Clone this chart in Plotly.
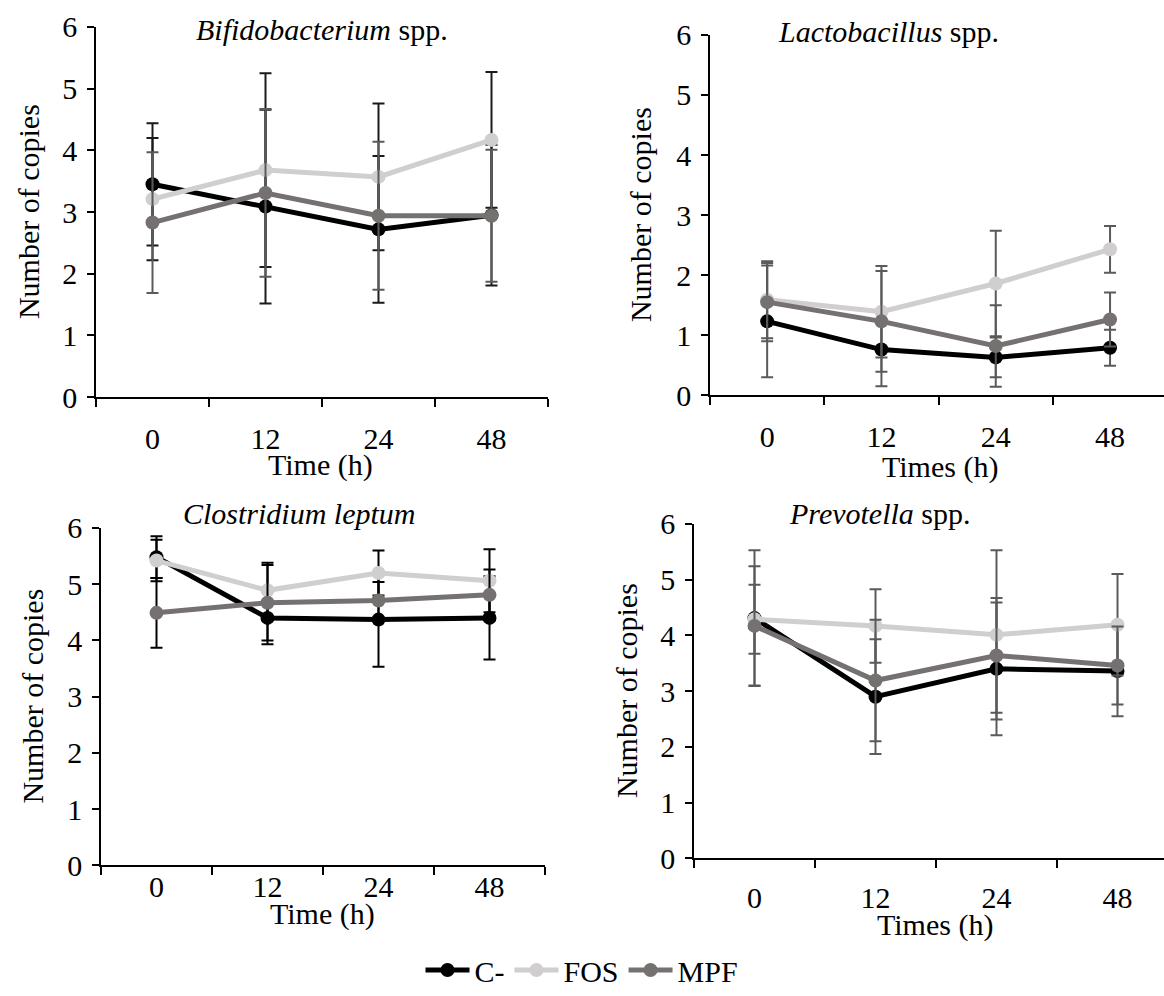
import plotly.graph_objects as go

# ---------------- data ----------------
TIMES = ["0", "12", "24", "48"]
SERIES = ["C-", "FOS", "MPF"]

# Bifidobacterium spp.
BIFI_C = [3.45, 3.09, 2.72, 2.95]
BIFI_C_ERR = [0.99, 1.57, 1.19, 1.14]
BIFI_FOS = [3.21, 3.68, 3.57, 4.17]
BIFI_FOS_ERR = [0.99, 1.57, 1.19, 1.10]
BIFI_MPF = [2.83, 3.31, 2.94, 2.94]
BIFI_MPF_ERR = [1.14, 1.36, 1.20, 1.07]

# Lactobacillus spp.
LACTO_C = [1.23, 0.76, 0.63, 0.79]
LACTO_C_ERR = [0.93, 0.61, 0.33, 0.30]
LACTO_FOS = [1.59, 1.39, 1.86, 2.43]
LACTO_FOS_ERR = [0.64, 0.76, 0.88, 0.39]
LACTO_MPF = [1.55, 1.23, 0.82, 1.26]
LACTO_MPF_ERR = [0.65, 0.84, 0.68, 0.45]

# Clostridium leptum
CLOS_C = [5.48, 4.40, 4.37, 4.40]
CLOS_C_ERR = [0.37, 0.47, 0.84, 0.74]
CLOS_FOS = [5.42, 4.89, 5.20, 5.06]
CLOS_FOS_ERR = [0.37, 0.49, 0.40, 0.56]
CLOS_MPF = [4.49, 4.67, 4.71, 4.81]
CLOS_MPF_ERR = [0.62, 0.67, 0.33, 0.45]

# Prevotella spp.
PREV_C = [4.31, 2.90, 3.40, 3.36]
PREV_C_ERR = [1.22, 1.03, 1.19, 0.81]
PREV_FOS = [4.29, 4.17, 4.01, 4.19]
PREV_FOS_ERR = [0.62, 0.66, 1.52, 0.91]
PREV_MPF = [4.17, 3.19, 3.64, 3.46]
PREV_MPF_ERR = [1.07, 1.09, 1.03, 0.70]

TITLES = ["<i>Bifidobacterium</i> spp.", "<i>Lactobacillus</i> spp.",
          "<i>Clostridium leptum</i>", "<i>Prevotella</i> spp."]
XTITLES = ["Time (h)", "Times (h)", "Time (h)", "Times (h)"]
YTITLE = "Number of copies"

# ---------------- style ----------------
W, H = 1164, 996
FONT = "Liberation Serif"
FS = 30
LINE_COLORS = {"C-": "#000000", "FOS": "#d0cece", "MPF": "#767171"}

panels = [
    dict(vals=[(BIFI_C, BIFI_C_ERR), (BIFI_FOS, BIFI_FOS_ERR), (BIFI_MPF, BIFI_MPF_ERR)],
         errc=["#1a1a1a", "#1a1a1a", "#5a5a5a"],
         x0=96, x1=548, xr=[-0.5, 3.5], ytop=27, ybot=398,
         title_xy=(322, 30), xt_xy=(320, 466), yt_x=28, tick_gap=14),
    dict(vals=[(LACTO_C, LACTO_C_ERR), (LACTO_FOS, LACTO_FOS_ERR), (LACTO_MPF, LACTO_MPF_ERR)],
         errc=["#5a5a5a", "#5a5a5a", "#5a5a5a"],
         x0=710, x1=1164, xr=[-0.5, -0.5 + 454 / 114.3], ytop=35, ybot=396,
         title_xy=(888, 32), xt_xy=(940, 468), yt_x=640, tick_gap=14),
    dict(vals=[(CLOS_C, CLOS_C_ERR), (CLOS_FOS, CLOS_FOS_ERR), (CLOS_MPF, CLOS_MPF_ERR)],
         errc=["#000000", "#000000", "#000000"],
         x0=101, x1=545, xr=[-0.5, 3.5], ytop=529, ybot=867,
         title_xy=(300, 515), xt_xy=(322, 916), yt_x=33, tick_gap=-6),
    dict(vals=[(PREV_C, PREV_C_ERR), (PREV_FOS, PREV_FOS_ERR), (PREV_MPF, PREV_MPF_ERR)],
         errc=["#5a5a5a", "#5a5a5a", "#5a5a5a"],
         x0=694, x1=1164, xr=[-0.5, -0.5 + 470 / 121.0], ytop=525, ybot=860,
         title_xy=(880, 515), xt_xy=(935, 927), yt_x=626, tick_gap=12),
]

fig = go.Figure()
annotations = []
layout_axes = {}

for i, p in enumerate(panels, start=1):
    xa = "x" if i == 1 else f"x{i}"
    ya = "y" if i == 1 else f"y{i}"
    for (vals, errs), name, ec in zip(p["vals"], SERIES, p["errc"]):
        fig.add_trace(go.Scatter(
            x=TIMES, y=vals, name=name, mode="lines+markers",
            xaxis=xa, yaxis=ya, showlegend=(i == 1),
            line=dict(color=LINE_COLORS[name], width=5),
            marker=dict(color=LINE_COLORS[name], size=14),
            error_y=dict(type="data", array=errs, visible=True,
                         color=ec, thickness=2, width=6),
        ))
    xkey = "xaxis" if i == 1 else f"xaxis{i}"
    ykey = "yaxis" if i == 1 else f"yaxis{i}"
    layout_axes[xkey] = dict(
        type="category", domain=[p["x0"] / W, p["x1"] / W], range=p["xr"],
        anchor=ya, tickson="boundaries", ticks="outside", ticklen=8,
        tickwidth=1.5, tickcolor="black", showline=True, linecolor="black",
        linewidth=1.5, showgrid=False, zeroline=False, automargin=False,
        tickfont=dict(family=FONT, size=FS, color="black"),
        ticklabelstandoff=p["tick_gap"], fixedrange=True,
    )
    layout_axes[ykey] = dict(
        domain=[(H - p["ybot"]) / H, (H - p["ytop"]) / H], range=[0, 6],
        anchor=xa, dtick=1, ticks="outside", ticklen=7, tickwidth=1.5,
        tickcolor="black", showline=True, linecolor="black", linewidth=1.5,
        showgrid=False, zeroline=False, automargin=False,
        tickfont=dict(family=FONT, size=FS, color="black"),
        ticklabelstandoff=4, fixedrange=True,
    )
    tx, ty = p["title_xy"]
    annotations.append(dict(text=TITLES[i - 1], x=tx / W, y=(H - ty) / H,
                            xref="paper", yref="paper", showarrow=False,
                            xanchor="center", yanchor="middle",
                            font=dict(family=FONT, size=FS, color="black")))
    xx, xy = p["xt_xy"]
    annotations.append(dict(text=XTITLES[i - 1], x=xx / W, y=(H - xy) / H,
                            xref="paper", yref="paper", showarrow=False,
                            xanchor="center", yanchor="middle",
                            font=dict(family=FONT, size=FS, color="black")))
    ymid = (p["ytop"] + p["ybot"]) / 2
    annotations.append(dict(text=YTITLE, x=p["yt_x"] / W, y=(H - ymid) / H,
                            xref="paper", yref="paper", showarrow=False,
                            textangle=-90, xanchor="center", yanchor="middle",
                            font=dict(family=FONT, size=FS, color="black")))

fig.update_layout(
    width=W, height=H, margin=dict(l=0, r=0, t=0, b=0),
    paper_bgcolor="white", plot_bgcolor="white",
    font=dict(family=FONT, size=FS, color="black"),
    showlegend=True,
    legend=dict(orientation="h", x=0.5, xanchor="center", y=(H - 972) / H,
                yanchor="middle", font=dict(family=FONT, size=FS),
                itemwidth=44, bgcolor="rgba(0,0,0,0)", tracegroupgap=0),
    annotations=annotations,
    **layout_axes,
)

fig.write_html("out.html")
